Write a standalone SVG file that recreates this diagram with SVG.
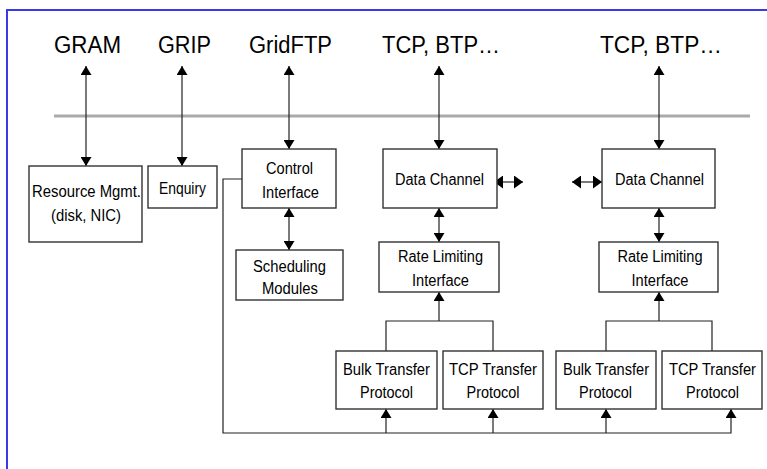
<svg xmlns="http://www.w3.org/2000/svg" width="767" height="469" viewBox="0 0 767 469">
  <style>
    .box { fill: #fff; stroke: #333; stroke-width: 1.4; }
    .lbl { font-family: "Liberation Sans", Arial, sans-serif; font-size: 16px; fill: #000; text-anchor: middle; }
    .top { font-family: "Liberation Sans", Arial, sans-serif; font-size: 23px; fill: #000; text-anchor: middle; }
    .wire { fill: none; stroke: #222; stroke-width: 1.2; }
  </style>
  <defs>
    <marker id="head" viewBox="0 0 9 11" refX="9" refY="5.5" markerWidth="9" markerHeight="11" markerUnits="userSpaceOnUse" orient="auto-start-reverse">
      <path d="M0,0 L9,5.5 L0,11 z" fill="#000"/>
    </marker>
    <marker id="headSide" viewBox="0 0 9 13" refX="9" refY="6.5" markerWidth="9" markerHeight="13" markerUnits="userSpaceOnUse" orient="auto-start-reverse">
      <path d="M0,0 L9,6.5 L0,13 z" fill="#000"/>
    </marker>
  </defs>

  <rect width="767" height="469" fill="#fff"/>

  <!-- frame (top and left edges) -->
  <g id="frame" stroke="#3a3ae8" stroke-width="2">
    <line x1="6" y1="10" x2="767" y2="10"/>
    <line x1="7" y1="10" x2="7" y2="469"/>
  </g>

  <!-- separator between services and internals -->
  <line id="separator" x1="54" y1="116" x2="750" y2="116" stroke="#aaa" stroke-width="3"/>

  <!-- service labels -->
  <g id="services">
    <text class="top" x="87.5" y="53" textLength="67" lengthAdjust="spacingAndGlyphs">GRAM</text>
    <text class="top" x="184.5" y="53" textLength="53" lengthAdjust="spacingAndGlyphs">GRIP</text>
    <text class="top" x="290.5" y="53" textLength="83" lengthAdjust="spacingAndGlyphs">GridFTP</text>
    <text class="top" x="441" y="53" textLength="118" lengthAdjust="spacingAndGlyphs">TCP, BTP…</text>
    <text class="top" x="661" y="53" textLength="122" lengthAdjust="spacingAndGlyphs">TCP, BTP…</text>
  </g>

  <!-- connectors -->
  <g id="connectors" class="wire">
    <line x1="86" y1="66" x2="86" y2="166" marker-start="url(#head)" marker-end="url(#head)"/>
    <line x1="182" y1="66" x2="182" y2="166" marker-start="url(#head)" marker-end="url(#head)"/>
    <line x1="289" y1="66" x2="289" y2="149" marker-start="url(#head)" marker-end="url(#head)"/>
    <line x1="439" y1="66" x2="439" y2="149" marker-start="url(#head)" marker-end="url(#head)"/>
    <line x1="659" y1="66" x2="659" y2="149" marker-start="url(#head)" marker-end="url(#head)"/>

    <line x1="289" y1="208" x2="289" y2="250" marker-start="url(#head)" marker-end="url(#head)"/>
    <line x1="439" y1="208" x2="439" y2="242" marker-start="url(#head)" marker-end="url(#head)"/>
    <line x1="659" y1="208" x2="659" y2="242" marker-start="url(#head)" marker-end="url(#head)"/>

    <line x1="494" y1="182" x2="523" y2="182" marker-start="url(#headSide)" marker-end="url(#headSide)"/>
    <line x1="572" y1="182" x2="602" y2="182" marker-start="url(#headSide)" marker-end="url(#headSide)"/>

    <path d="M386,351 V321 H493 V351"/>
    <line x1="439" y1="321" x2="439" y2="292" marker-end="url(#head)"/>
    <path d="M606,351 V321 H712 V351"/>
    <line x1="659" y1="321" x2="659" y2="292" marker-end="url(#head)"/>

    <path d="M242,179 H223 V433 H731 V409" marker-end="url(#head)"/>
    <line x1="386" y1="433" x2="386" y2="409" marker-end="url(#head)"/>
    <line x1="493" y1="433" x2="493" y2="409" marker-end="url(#head)"/>
    <line x1="606" y1="433" x2="606" y2="409" marker-end="url(#head)"/>
  </g>

  <!-- nodes -->
  <g id="resource-mgmt">
    <rect class="box" x="29" y="166" width="113" height="76"/>
    <text class="lbl" x="86.5" y="197" textLength="109" lengthAdjust="spacingAndGlyphs">Resource Mgmt.</text>
    <text class="lbl" x="86" y="221" textLength="70" lengthAdjust="spacingAndGlyphs">(disk, NIC)</text>
  </g>
  <g id="enquiry">
    <rect class="box" x="148" y="166" width="69" height="42"/>
    <text class="lbl" x="182.5" y="194" textLength="47" lengthAdjust="spacingAndGlyphs">Enquiry</text>
  </g>
  <g id="control-interface">
    <rect class="box" x="242" y="149" width="94" height="59"/>
    <text class="lbl" x="289.5" y="174" textLength="47" lengthAdjust="spacingAndGlyphs">Control</text>
    <text class="lbl" x="290.5" y="198" textLength="57" lengthAdjust="spacingAndGlyphs">Interface</text>
  </g>
  <g id="scheduling-modules">
    <rect class="box" x="236" y="250" width="107" height="50"/>
    <text class="lbl" x="289.5" y="272" textLength="73" lengthAdjust="spacingAndGlyphs">Scheduling</text>
    <text class="lbl" x="290" y="294" textLength="56" lengthAdjust="spacingAndGlyphs">Modules</text>
  </g>

  <g id="data-channel-1">
    <rect class="box" x="383" y="149" width="114" height="59"/>
    <text class="lbl" x="439.5" y="185" textLength="89" lengthAdjust="spacingAndGlyphs">Data Channel</text>
  </g>
  <g id="rate-limiting-1">
    <rect class="box" x="379" y="242" width="120" height="50"/>
    <text class="lbl" x="440.5" y="262" textLength="85" lengthAdjust="spacingAndGlyphs">Rate Limiting</text>
    <text class="lbl" x="440.5" y="286" textLength="57" lengthAdjust="spacingAndGlyphs">Interface</text>
  </g>
  <g id="bulk-transfer-1">
    <rect class="box" x="336" y="351" width="101" height="58"/>
    <text class="lbl" x="386.5" y="375" textLength="87" lengthAdjust="spacingAndGlyphs">Bulk Transfer</text>
    <text class="lbl" x="386.5" y="398" textLength="53" lengthAdjust="spacingAndGlyphs">Protocol</text>
  </g>
  <g id="tcp-transfer-1">
    <rect class="box" x="443" y="351" width="100" height="58"/>
    <text class="lbl" x="493" y="375" textLength="88" lengthAdjust="spacingAndGlyphs">TCP Transfer</text>
    <text class="lbl" x="493" y="398" textLength="53" lengthAdjust="spacingAndGlyphs">Protocol</text>
  </g>

  <g id="data-channel-2">
    <rect class="box" x="602" y="149" width="113" height="59"/>
    <text class="lbl" x="659.5" y="185" textLength="89" lengthAdjust="spacingAndGlyphs">Data Channel</text>
  </g>
  <g id="rate-limiting-2">
    <rect class="box" x="599" y="242" width="119" height="50"/>
    <text class="lbl" x="660" y="262" textLength="85" lengthAdjust="spacingAndGlyphs">Rate Limiting</text>
    <text class="lbl" x="660" y="286" textLength="57" lengthAdjust="spacingAndGlyphs">Interface</text>
  </g>
  <g id="bulk-transfer-2">
    <rect class="box" x="556" y="351" width="100" height="58"/>
    <text class="lbl" x="606" y="375" textLength="86" lengthAdjust="spacingAndGlyphs">Bulk Transfer</text>
    <text class="lbl" x="605.5" y="398" textLength="53" lengthAdjust="spacingAndGlyphs">Protocol</text>
  </g>
  <g id="tcp-transfer-2">
    <rect class="box" x="662" y="351" width="100" height="58"/>
    <text class="lbl" x="712.5" y="375" textLength="87" lengthAdjust="spacingAndGlyphs">TCP Transfer</text>
    <text class="lbl" x="712.5" y="398" textLength="53" lengthAdjust="spacingAndGlyphs">Protocol</text>
  </g>
</svg>
